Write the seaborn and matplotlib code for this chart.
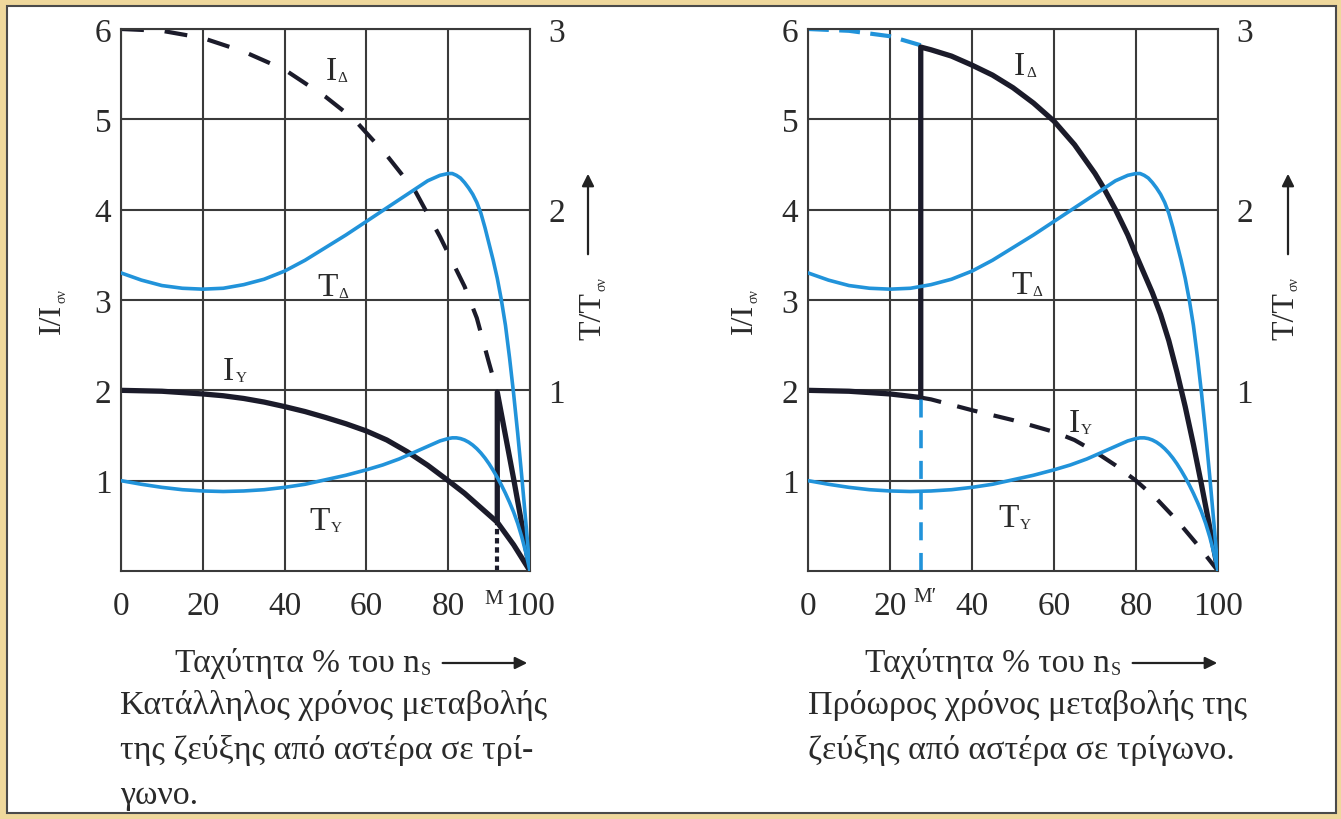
import matplotlib
matplotlib.use("Agg")
import matplotlib.pyplot as plt
from matplotlib.patches import Rectangle, FancyArrowPatch
import seaborn as sns

# ---- data (speed in % of n_s; currents in I/I_σν, torques in T/T_σν) ----
speed_T = [0, 5, 10, 15, 20, 25, 30, 35, 40, 45, 50, 55, 60, 64, 68, 72, 75, 78,
           80, 81, 82, 83, 84, 85, 86, 87, 88, 89, 90, 91, 92, 93, 94, 95, 96,
           97, 98, 99, 100]
torque_delta = [1.65, 1.61, 1.58, 1.565, 1.56, 1.565, 1.585, 1.615, 1.66, 1.72,
                1.79, 1.86, 1.935, 1.995, 2.055, 2.115, 2.16, 2.19, 2.20, 2.20,
                2.19, 2.175, 2.15, 2.12, 2.085, 2.04, 1.98, 1.90, 1.81, 1.72,
                1.62, 1.50, 1.36, 1.18, 0.98, 0.76, 0.52, 0.265, 0.0]
torque_star = [0.50, 0.48, 0.463, 0.45, 0.443, 0.44, 0.443, 0.45, 0.463, 0.48,
               0.505, 0.53, 0.56, 0.587, 0.62, 0.66, 0.69, 0.72, 0.733, 0.737,
               0.737, 0.733, 0.725, 0.713, 0.697, 0.677, 0.653, 0.625, 0.593,
               0.557, 0.518, 0.476, 0.43, 0.38, 0.326, 0.263, 0.188, 0.10, 0.0]

speed_Istar = [0, 10, 20, 25, 30, 35, 40, 45, 50, 55, 60, 65, 70, 75, 80, 84,
               88, 92, 96, 100]
current_star = [2.0, 1.99, 1.96, 1.94, 1.91, 1.87, 1.82, 1.765, 1.70, 1.63,
                1.55, 1.45, 1.32, 1.17, 1.0, 0.86, 0.70, 0.54, 0.29, 0.0]

# left panel: switching at M
switch_M = 92
speed_Idelta_free = [0, 10, 20, 30, 40, 50, 57, 65, 72, 78, 84, 87, 90, 92]
current_delta_free = [6.0, 5.98, 5.9, 5.75, 5.55, 5.25, 5.0, 4.6, 4.2, 3.7,
                      3.15, 2.8, 2.3, 1.98]
speed_after_M = [92, 92, 94, 96, 98, 100]
current_after_M = [0.54, 1.98, 1.5, 1.02, 0.52, 0.0]

# right panel: early switching at M'
switch_Mp = 27.5
speed_delta_pre = [0, 10, 20, 27.5]
current_delta_pre = [6.0, 5.98, 5.92, 5.82]
speed_switch_path = [0, 10, 20, 27.5, 27.5, 30, 35, 40, 45, 50, 55, 60, 65, 70,
                     72, 75, 78, 80, 82, 84, 86, 88, 90, 92, 94, 96, 98, 100]
current_switch_path = [2.0, 1.99, 1.96, 1.92, 5.8, 5.77, 5.7, 5.6, 5.49, 5.35,
                       5.18, 4.98, 4.72, 4.4, 4.25, 4.0, 3.72, 3.5, 3.29, 3.08,
                       2.84, 2.55, 2.2, 1.82, 1.4, 0.95, 0.48, 0.0]
speed_star_after = [27.5, 30, 40, 50, 60, 65, 70, 75, 80, 85, 90, 95, 100]
current_star_after = [1.92, 1.9, 1.78, 1.67, 1.54, 1.45, 1.32, 1.17, 1.0, 0.8,
                      0.56, 0.29, 0.0]

x_ticks = [0, 20, 40, 60, 80, 100]
i_ticks = [1, 2, 3, 4, 5, 6]
t_ticks = [1, 2, 3]

caption_left = ["Κατάλληλος χρόνος μεταβολής", "της ζεύξης από αστέρα σε τρί-", "γωνο."]
caption_right = ["Πρόωρος χρόνος μεταβολής της", "ζεύξης από αστέρα σε τρίγωνο."]

# ---- style ----
sns.set_style("white")
plt.rcParams['font.family'] = ['Liberation Serif', 'DejaVu Serif']

BLUE = '#2193DA'
DARK = '#1b1b2a'
GRID = '#3a3a3a'
TXT = '#2a2a2a'

W, H = 1341, 820
fig = plt.figure(figsize=(W / 100, H / 100), dpi=100, facecolor='#EFD89C')
fig.patches.append(Rectangle((7 / W, 6 / H), (1336 - 7) / W, (813 - 6) / H,
                             transform=fig.transFigure, facecolor='white',
                             edgecolor='#4a4a4a', lw=1.5, zorder=-5))
renderer = fig.canvas.get_renderer()


def fx(px):
    return px / W


def fy(py):
    return 1 - py / H


def arrow(p0, p1):
    fig.add_artist(FancyArrowPatch((fx(p0[0]), fy(p0[1])), (fx(p1[0]), fy(p1[1])),
                                   transform=fig.transFigure, arrowstyle='-|>',
                                   mutation_scale=18, lw=1.6, color='#222'))


def text_sub(x_px, y_px, main, sub, size=24, sub_size=11, drop=5, vertical=False):
    """Main text with a small subscript; (x_px, y_px) is the start of the
    baseline in image pixels (origin top-left)."""
    rot = 90 if vertical else 0
    t = fig.text(fx(x_px), fy(y_px), main, rotation=rot, rotation_mode='anchor',
                 ha='left', va='baseline', fontsize=size, color=TXT)
    bb = t.get_window_extent(renderer)
    if vertical:
        sx, sy = x_px + drop, H - bb.y1 - 1
    else:
        sx, sy = bb.x1 + 1, y_px + drop
    fig.text(fx(sx), fy(sy), sub, rotation=rot, rotation_mode='anchor',
             ha='left', va='baseline', fontsize=sub_size, color=TXT)


def make_panel(left_px, right_px):
    ax = fig.add_axes([fx(left_px), fy(572), (right_px - left_px) / W, (572 - 30) / H])
    ax.set_xlim(0, 100)
    ax.set_ylim(0, 6)
    ax.set_xticks(x_ticks)
    ax.set_xticklabels([str(v) for v in x_ticks])
    ax.set_yticks(i_ticks)
    ax.set_yticklabels([str(v) for v in i_ticks])
    ax.set_axisbelow(True)
    ax.grid(True, color=GRID, lw=1.5)
    ax.tick_params(axis='both', length=0, labelsize=24, colors=TXT)
    ax.tick_params(axis='x', pad=14)
    ax.tick_params(axis='y', pad=7)
    for s in ax.spines.values():
        s.set_color(GRID)
        s.set_linewidth(1.5)
    tw = ax.twinx()
    tw.set_ylim(0, 3)
    tw.set_yticks(t_ticks)
    tw.set_yticklabels([str(v) for v in t_ticks])
    tw.tick_params(axis='y', length=0, labelsize=24, colors=TXT, pad=13)
    for s in tw.spines.values():
        s.set_visible(False)
    tw.grid(False)
    return ax, tw


def torque_curves(tw):
    sns.lineplot(x=speed_T, y=torque_delta, ax=tw, color=BLUE, lw=2.6,
                 sort=False, estimator=None)
    sns.lineplot(x=speed_T, y=torque_star, ax=tw, color=BLUE, lw=2.6,
                 sort=False, estimator=None)


def curve_label(ax, x, y, main, sub):
    px, py = ax.transData.transform((x, y))
    text_sub(px, H - py, main, sub, size=24, sub_size=11, drop=2)


def panel_texts(ax, xl_px, ylab_px, tlab_px, arrow_px, arrow_end):
    text_sub(ylab_px + 10, 334, 'I/I', 'σν', size=23, sub_size=10, drop=5, vertical=True)
    text_sub(tlab_px + 10, 340, 'T/T', 'σν', size=23, sub_size=10, drop=5, vertical=True)
    arrow((arrow_px, 258), (arrow_px, 172))
    fig.text(fx(xl_px), fy(672), 'Ταχύτητα % του n', ha='left', va='baseline',
             fontsize=24, color=TXT)
    t = fig.texts[-1]
    bb = t.get_window_extent(renderer)
    fig.text((bb.x1 + 1) / W, fy(675), 'S', ha='left', va='baseline',
             fontsize=13, color=TXT)
    arrow((bb.x1 + 20, 664), (arrow_end, 664))


# ---- left panel ----
axL, twL = make_panel(121, 530)
torque_curves(twL)
sns.lineplot(x=speed_Istar, y=current_star, ax=axL, color=DARK, lw=3.8,
             sort=False, estimator=None)
sns.lineplot(x=speed_Idelta_free, y=current_delta_free, ax=axL, color=DARK,
             lw=3.0, sort=False, estimator=None, linestyle=(0, (5.5, 5)))
sns.lineplot(x=speed_after_M, y=current_after_M, ax=axL, color=DARK, lw=3.8,
             sort=False, estimator=None)
axL.vlines(switch_M, 0, current_after_M[0], color=DARK, lw=3.0,
           linestyles=[(0, (1.3, 0.9))])
curve_label(axL, 50, 5.45, 'I', 'Δ')
curve_label(axL, 48, 3.06, 'T', 'Δ')
curve_label(axL, 25, 2.13, 'I', 'Y')
curve_label(axL, 46, 0.47, 'T', 'Y')
axL.text(switch_M - 1, -0.3, 'M', fontsize=15, ha='center', va='center', color=TXT)
panel_texts(axL, 175, 50, 590, 588, 530)
for i, line in enumerate(caption_left):
    fig.text(fx(120), fy(706 + 45 * i), line, ha='left', va='center',
             fontsize=24.5, color=TXT)

# ---- right panel ----
axR, twR = make_panel(808, 1218)
torque_curves(twR)
sns.lineplot(x=speed_delta_pre, y=current_delta_pre, ax=axR, color=BLUE,
             lw=3.0, sort=False, estimator=None, linestyle=(0, (5, 2.5)))
sns.lineplot(x=speed_star_after, y=current_star_after, ax=axR, color=DARK,
             lw=3.0, sort=False, estimator=None, linestyle=(0, (5, 4)))
sns.lineplot(x=speed_switch_path, y=current_switch_path, ax=axR, color=DARK,
             lw=3.8, sort=False, estimator=None)
axR.vlines(switch_Mp, 0, current_star_after[0], color=BLUE, lw=2.6,
           linestyles=[(0, (5, 3.5))])
curve_label(axR, 50.2, 5.5, 'I', 'Δ')
curve_label(axR, 49.5, 3.08, 'T', 'Δ')
curve_label(axR, 63.5, 1.55, 'I', 'Y')
curve_label(axR, 46.5, 0.5, 'T', 'Y')
axR.text(28.5, -0.28, 'M′', fontsize=15, ha='center', va='center', color=TXT)
panel_texts(axR, 865, 742, 1283, 1288, 1220)
for i, line in enumerate(caption_right):
    fig.text(fx(808), fy(706 + 45 * i), line, ha='left', va='center',
             fontsize=24.5, color=TXT)

fig.savefig('out.png', dpi=100, facecolor=fig.get_facecolor())
